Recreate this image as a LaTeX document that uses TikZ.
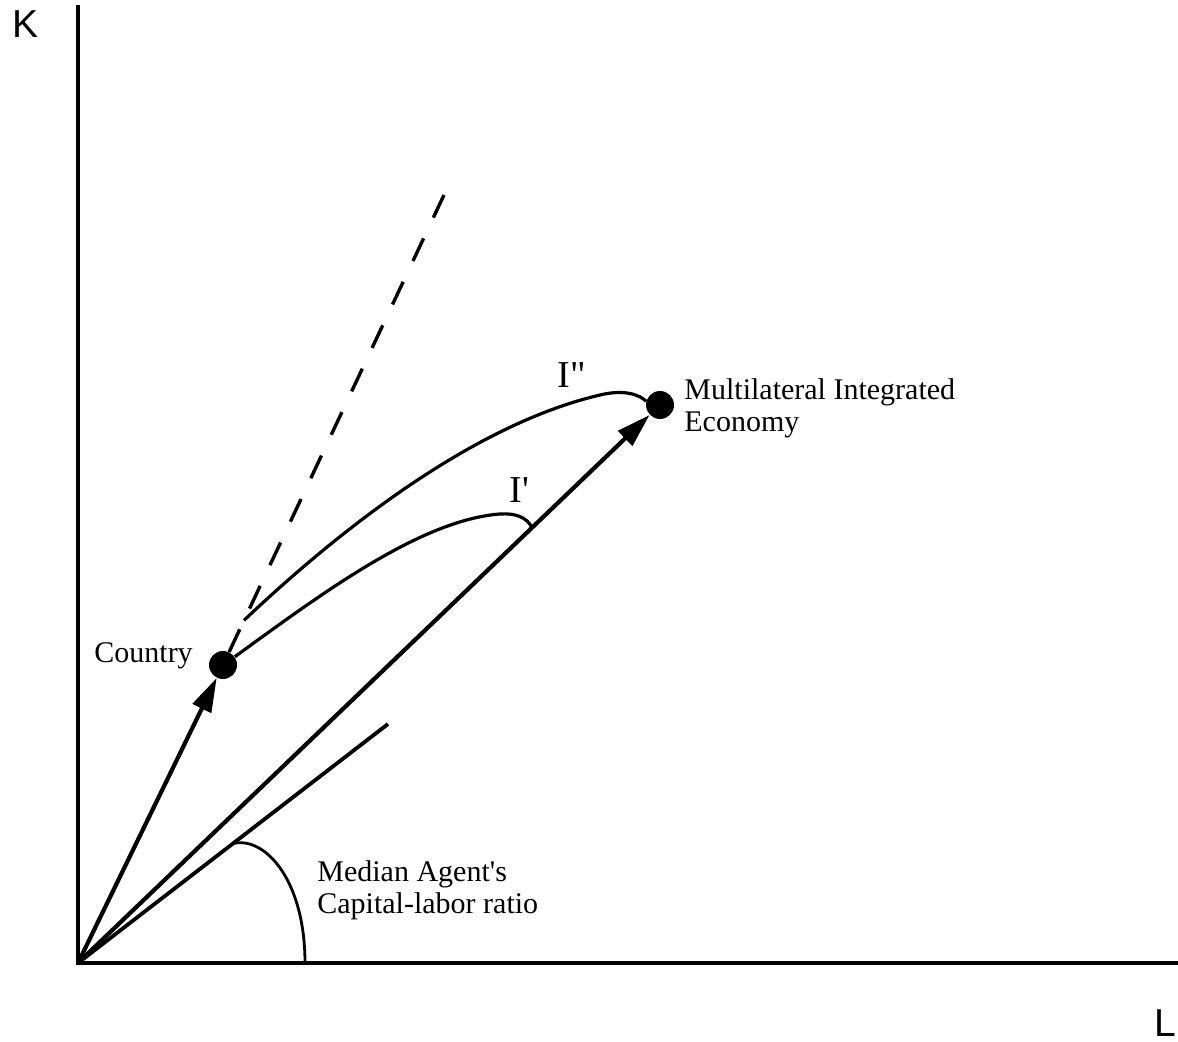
\documentclass[tikz,border=0pt]{standalone}
\usepackage{fontspec}
\setmainfont{Liberation Serif}
\newfontfamily\axisfont{Liberation Sans}
\usetikzlibrary{arrows.meta,calc}
\begin{document}
\begin{tikzpicture}[x=0.5pt,y=-0.5pt,
  axis/.style={line width=1.6pt},
  vec/.style={line width=2.1pt,-{Triangle[length=17pt,width=10pt]}},
  curve/.style={line width=1.6pt},
  ray/.style={line width=1.9pt},
  guide/.style={line width=1.7pt,dash pattern=on 12.5pt off 11.5pt},
  arcline/.style={line width=1.4pt},
  dot/.style={circle,fill=black,inner sep=0pt,minimum size=14pt},
  lbl/.style={font=\fontsize{15}{16}\selectfont,inner sep=0pt,align=left},
  ilbl/.style={font=\fontsize{19}{22}\selectfont,inner sep=0pt},
  axlbl/.style={font=\axisfont\fontsize{19.5}{22}\selectfont,inner sep=0pt}]
\useasboundingbox (0,0) rectangle (1178,1042);
\coordinate (O) at (78,963);
\coordinate (Ktop) at (78,5);
\coordinate (Lend) at (1178,963);
\node[dot] (C) at (223,665) {};
\node[dot] (M) at (660,405) {};
\coordinate (D) at (444,195);
\coordinate (R) at (388,724);
\coordinate (A1) at ($(O)!0.5!(R)$);
\coordinate (A2) at (305,963);
\coordinate (Q) at ($(O)!0.78!(M)$);
\coordinate (S) at ($(C)!0.095!(D)$);

\draw[axis] (Ktop) -- (O) -- (Lend);
\draw[ray] (O) -- (R);
\draw[arcline] (A1) .. controls (265,836) and (305,880) .. (A2);
\draw[vec] (O) -- (C);
\draw[vec] (O) -- (M);
\draw[guide] (C) -- (D);
\draw[curve] (C.35) .. controls (320,595) and (420,520) .. (500,514) .. controls (515,513) and (527,517) .. (Q);
\draw[curve] (S) .. controls (350,520) and (480,423) .. (600,395) .. controls (625,389) and (640,395) .. (M.165);

\node[ilbl,anchor=base west] (Ipp) at (557,388) {I\textquotedbl};
\node[ilbl,anchor=base west] (Ip) at (509,503) {I\textquotesingle};
\node[lbl,anchor=base west] (cl) at (94,662) {Country};
\node[lbl,anchor=base west] (ml) at (684,432) {Multilateral Integrated\\Economy};
\node[lbl,anchor=base west] (al) at (317,913) {Median Agent\textquotesingle s\\Capital-labor ratio};
\node[axlbl,anchor=base west] (kl) at (12,38) {K};
\node[axlbl,anchor=base west] (ll) at (1154,1036) {L};
\end{tikzpicture}
\end{document}
